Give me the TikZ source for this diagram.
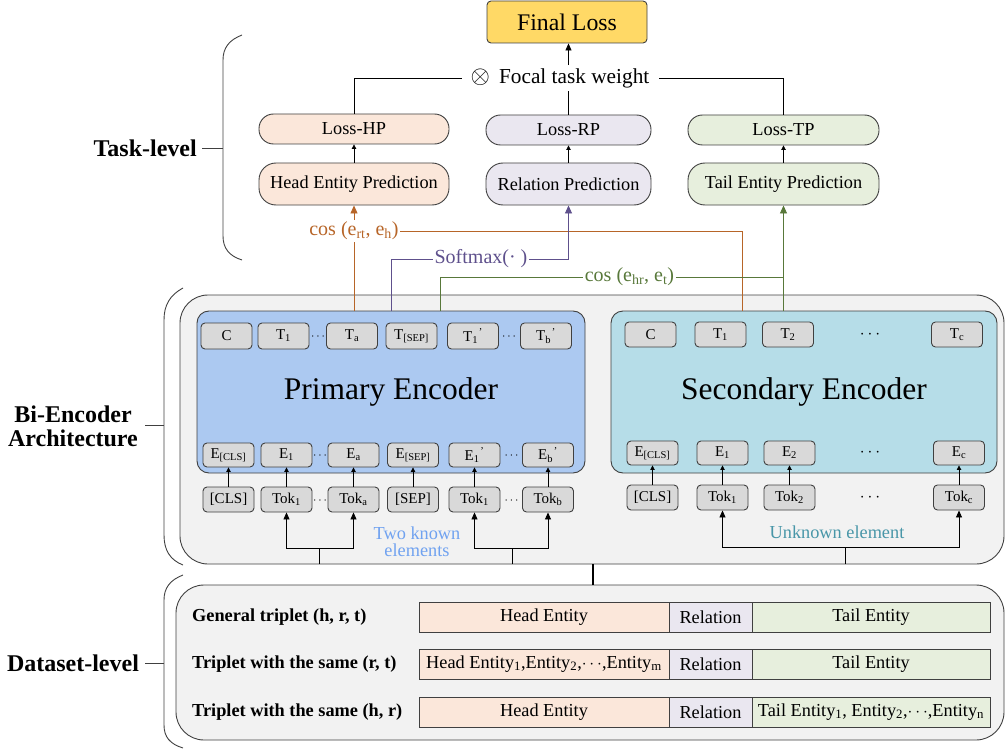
\documentclass[tikz,border=0pt]{standalone}
\usepackage{fontspec}
\setmainfont{Liberation Serif}
\usetikzlibrary{arrows.meta,calc}
\definecolor{gold}{HTML}{FFD966}
\definecolor{peach}{HTML}{FBE7DA}
\definecolor{lav}{HTML}{EAE7F0}
\definecolor{sage}{HTML}{E7EFDD}
\definecolor{panel}{HTML}{F2F2F2}
\definecolor{pblue}{HTML}{ACC9F1}
\definecolor{sblue}{HTML}{B6DDE8}
\definecolor{tokgray}{HTML}{D9D9D9}
\definecolor{edgec}{HTML}{404040}
\definecolor{corange}{RGB}{183,101,40}
\definecolor{cpurple}{RGB}{94,80,140}
\definecolor{cgreen}{RGB}{88,120,58}
\definecolor{known}{RGB}{112,162,240}
\definecolor{unknown}{RGB}{72,150,168}
\newcommand\fs[1]{\fontsize{#1}{#1}\selectfont}
\newcommand\sbp[1]{\textsubscript{#1}\kern0.05em\textsuperscript{'}}
\begin{document}
\begin{tikzpicture}[x=1pt,y=-1pt,
  pill/.style={draw=edgec, line width=0.9pt, rounded corners=14.5pt, minimum height=30pt, inner sep=0pt, font=\fs{18.3}},
  pred/.style={pill, rounded corners=17pt, minimum height=42pt},
  tok/.style={draw=edgec, line width=0.9pt, fill=tokgray, rounded corners=4pt, minimum width=51pt, minimum height=25pt, inner sep=0pt, font=\fs{15}},
  cell/.style={draw=edgec, line width=0.9pt, minimum height=30pt, inner sep=0pt, font=\fs{18.3}},
  panelbox/.style={draw=edgec, line width=0.9pt, fill=panel, rounded corners=28pt, inner sep=0pt},
  encbox/.style={draw=edgec, line width=0.9pt, rounded corners=12pt, inner sep=0pt, font=\fs{31.5}},
  conn/.style={draw=black, line width=0.8pt},
  brace/.style={draw=edgec, line width=0.9pt},
  bigtip/.style={-{Triangle[length=8pt,width=7pt]}},
  midtip/.style={-{Triangle[length=7pt,width=6pt]}},
  smalltip/.style={-{Triangle[length=4.5pt,width=4.5pt]}},
  lvl/.style={font=\fs{24}\bfseries, inner sep=0pt, align=center},
  rowlbl/.style={font=\fs{18.3}\bfseries, inner sep=0pt, anchor=west},
  clabel/.style={font=\fs{20}, inner xsep=1.5pt, inner ysep=2pt}
]
\useasboundingbox (0,0) rectangle (1007,749);

% ---------- panels ----------
\node[panelbox, minimum width=824pt, minimum height=269pt] (bi) at (592,429.5) {};
\node[panelbox, minimum width=828pt, minimum height=155pt] (ds) at (590,662.5) {};
\node[encbox, fill=pblue, minimum width=388pt, minimum height=162pt] (prim) at (391,392) {Primary Encoder};
\node[encbox, fill=sblue, minimum width=386pt, minimum height=162pt] (sec) at (804,392) {Secondary Encoder};

% ---------- task level ----------
\node[draw=edgec, line width=0.9pt, fill=gold, rounded corners=4pt, minimum width=160pt, minimum height=42pt, inner sep=0pt, font=\fs{23.8}] (FL) at (567,22) {Final Loss};
\node[font=\fs{21.3}, inner xsep=9pt, inner ysep=3pt] (focal) at (560,78) {{\fs{26}$\otimes$}\hspace{9pt}Focal task weight};

\node[pill, fill=peach, minimum width=190pt] (LHP) at (354,129) {Loss-HP};
\node[pred, fill=peach, minimum width=190pt] (HP) at (354,184) {Head Entity Prediction};
\node[pill, fill=lav, minimum width=165pt] (LRP) at (568.5,130) {Loss-RP};
\node[pred, fill=lav, minimum width=165pt] (RP) at (568.5,184) {Relation Prediction};
\node[pill, fill=sage, minimum width=191pt] (LTP) at (783.5,130) {Loss-TP};
\node[pred, fill=sage, minimum width=191pt] (TP) at (783.5,184) {Tail Entity Prediction};

\draw[conn, smalltip] (HP.north) -- (LHP.south);
\draw[conn, smalltip] (RP.north) -- (LRP.south);
\draw[conn, smalltip] (TP.north) -- (LTP.south);
\draw[conn] (LHP.north) |- (focal.west);
\draw[conn] (LTP.north) |- (focal.east);
\draw[conn] (LRP.north) -- (LRP.north |- focal.south);
\draw[conn, midtip] (LRP.north |- focal.north) -- (FL.south -| LRP.north);

% ---------- connector labels ----------
\node[clabel, text=corange] (cosH) at (354,231) {cos (e\textsubscript{rt}, e\textsubscript{h})};
\node[clabel, text=cpurple] (soft) at (481,259) {Softmax(\textperiodcentered\ )};
\node[clabel, text=cgreen] (cosT) at (629.5,277) {cos (e\textsubscript{hr}, e\textsubscript{t})};

\coordinate (pO) at (354,311);
\coordinate (sO) at (742,311);
\coordinate (pP) at (391,311);
\coordinate (pG) at (440,311);
\coordinate (sG) at (783.5,311);

\draw[conn, draw=corange] (pO) -- (cosH.south);
\draw[conn, draw=corange, bigtip] (cosH.north) -- (HP.south);
\draw[conn, draw=corange] (cosH.east) -| (sO);
\draw[conn, draw=cpurple] (pP) |- (soft.west);
\draw[conn, draw=cpurple, bigtip] (soft.east) -| (RP.south);
\draw[conn, draw=cgreen] (pG) |- (cosT.west);
\draw[conn, draw=cgreen] (cosT.east) -- (cosT.east -| TP.south);
\draw[conn, draw=cgreen, bigtip] (sG) -- (TP.south);

% ---------- primary encoder tokens ----------
\node[tok, minimum height=26pt] (pT0) at (226.5,336) {C};
\node[tok, minimum height=26pt] (pT1) at (283.5,336) {T\textsubscript{1}};
\node[tok, minimum height=26pt] (pTa) at (352,336) {T\textsubscript{a}};
\node[tok, minimum height=26pt] (pTs) at (411.5,336) {T\textsubscript{[SEP]}};
\node[tok, minimum height=26pt] (pT1b) at (473,336) {T\sbp{1}};
\node[tok, minimum height=26pt] (pTb) at (546,336) {T\sbp{b}};
\node[font=\fs{12}, inner sep=0pt] (pTd1) at (318,337) {$\cdots$};
\node[font=\fs{12}, inner sep=0pt] (pTd2) at (509,337) {$\cdots$};

\node[tok, minimum height=24pt] (pE0) at (228.5,455) {E\textsubscript{[CLS]}};
\node[tok, minimum height=24pt] (pE1) at (286.5,455) {E\textsubscript{1}};
\node[tok, minimum height=24pt] (pEa) at (353.5,455) {E\textsubscript{a}};
\node[tok, minimum height=24pt] (pEs) at (413,455) {E\textsubscript{[SEP]}};
\node[tok, minimum height=24pt] (pE1b) at (474.5,455) {E\sbp{1}};
\node[tok, minimum height=24pt] (pEb) at (548,455) {E\sbp{b}};
\node[font=\fs{12}, inner sep=0pt] (pEd1) at (320,456) {$\cdots$};
\node[font=\fs{12}, inner sep=0pt] (pEd2) at (511.5,456) {$\cdots$};

\node[tok] (pK0) at (228.5,499.5) {[CLS]};
\node[tok] (pK1) at (286.5,499.5) {Tok\textsubscript{1}};
\node[tok] (pKa) at (353.5,499.5) {Tok\textsubscript{a}};
\node[tok] (pKs) at (413,499.5) {[SEP]};
\node[tok] (pK1b) at (474.5,499.5) {Tok\textsubscript{1}};
\node[tok] (pKb) at (548,499.5) {Tok\textsubscript{b}};
\node[font=\fs{12}, inner sep=0pt] (pKd1) at (320,500.5) {$\cdots$};
\node[font=\fs{12}, inner sep=0pt] (pKd2) at (511.5,500.5) {$\cdots$};

\foreach \k/\e in {pK0/pE0,pK1/pE1,pKa/pEa,pKs/pEs,pK1b/pE1b,pKb/pEb}
  \draw[conn, smalltip] (\k.north) -- (\e.south);

\coordinate (inA) at (319,564);
\coordinate (inB) at (512,564);
\draw[conn, midtip] (inA) -- ++(0,-16) -| (pK1.south);
\draw[conn, midtip] (inA) ++(0,-16) -| (pKa.south);
\draw[conn, midtip] (inB) -- ++(0,-16) -| (pK1b.south);
\draw[conn, midtip] (inB) ++(0,-16) -| (pKb.south);
\node[font=\fs{18.3}, text=known, align=center, inner sep=0pt] (known) at (417,542) {Two known\\[-1pt]elements};

% ---------- secondary encoder tokens ----------
\node[tok] (sT0) at (650.5,334.5) {C};
\node[tok] (sT1) at (720.5,334.5) {T\textsubscript{1}};
\node[tok] (sT2) at (788,334.5) {T\textsubscript{2}};
\node[font=\fs{18}, inner sep=0pt] (sTd) at (870,334.5) {$\cdots$};
\node[tok] (sTc) at (957,334.5) {T\textsubscript{c}};

\node[tok, minimum height=24pt] (sE0) at (652.5,453) {E\textsubscript{[CLS]}};
\node[tok, minimum height=24pt] (sE1) at (722.5,453) {E\textsubscript{1}};
\node[tok, minimum height=24pt] (sE2) at (789.5,453) {E\textsubscript{2}};
\node[font=\fs{18}, inner sep=0pt] (sEd) at (870,453) {$\cdots$};
\node[tok, minimum height=24pt] (sEc) at (959,453) {E\textsubscript{c}};

\node[tok] (sK0) at (652.5,497.5) {[CLS]};
\node[tok] (sK1) at (722.5,497.5) {Tok\textsubscript{1}};
\node[tok] (sK2) at (789.5,497.5) {Tok\textsubscript{2}};
\node[font=\fs{18}, inner sep=0pt] (sKd) at (870,497.5) {$\cdots$};
\node[tok] (sKc) at (959,497.5) {Tok\textsubscript{c}};

\foreach \k/\e in {sK0/sE0,sK1/sE1,sK2/sE2,sKc/sEc}
  \draw[conn, smalltip] (\k.north) -- (\e.south);

\coordinate (inC) at (845,564);
\draw[conn, midtip] (inC) -- ++(0,-17) -| (sK1.south);
\draw[conn, midtip] (inC) ++(0,-17) -| (sKc.south);
\node[font=\fs{18.3}, text=unknown, inner sep=0pt] (unk) at (837,532) {Unknown element};

% ---------- bi-encoder to dataset ----------
\coordinate (biB) at (593,564);
\coordinate (dsT) at (593,585);
\draw[draw=black, line width=1.6pt] (biB) -- (dsT);

% ---------- dataset level ----------
\node[rowlbl] (r1) at (192,617) {General triplet (h, r, t)};
\node[rowlbl] (r2) at (192,664) {Triplet with the same (r, t)};
\node[rowlbl] (r3) at (192,712) {Triplet with the same (h, r)};

\node[cell, fill=peach, minimum width=250pt] (h1) at (544,617) {Head Entity};
\node[cell, fill=lav, minimum width=83pt] (m1) at (710.5,617) {Relation};
\node[cell, fill=sage, minimum width=238pt] (t1) at (871,617) {Tail Entity};

\node[cell, fill=peach, minimum width=250pt] (h2) at (544,664) {Head Entity\textsubscript{1},Entity\textsubscript{2},$\cdots$,Entity\textsubscript{m}};
\node[cell, fill=lav, minimum width=83pt] (m2) at (710.5,664) {Relation};
\node[cell, fill=sage, minimum width=238pt] (t2) at (871,664) {Tail Entity};

\node[cell, fill=peach, minimum width=250pt] (h3) at (544,712) {Head Entity};
\node[cell, fill=lav, minimum width=83pt] (m3) at (710.5,712) {Relation};
\node[cell, fill=sage, minimum width=238pt] (t3) at (871,712) {Tail Entity\textsubscript{1}, Entity\textsubscript{2},$\cdots$,Entity\textsubscript{n}};

% ---------- left braces and level labels ----------
\draw[brace] (242,35) .. controls (229,40) and (223,48) .. (223,60) -- (223,236) .. controls (223,248) and (229,256) .. (242,260);
\coordinate (tb) at (223,148);
\node[lvl, anchor=east] (tl) at (197,148) {Task-level};
\draw[brace] (tl.east) ++(5,0) -- (tb);

\draw[brace] (183,288) .. controls (170,295) and (164,305) .. (164,320) -- (164,535) .. controls (164,550) and (170,560) .. (183,565);
\coordinate (bb) at (164,425);
\node[lvl] (bl) at (73,426) {Bi-Encoder\\[0pt]Architecture};
\draw[brace] (145,425) -- (bb);

\draw[brace] (183,575) .. controls (170,580) and (164,588) .. (164,600) -- (164,725) .. controls (164,737) and (170,744) .. (183,748);
\coordinate (db) at (164,663);
\node[lvl] (dl) at (73,663) {Dataset-level};
\draw[brace] (145,663) -- (db);
\end{tikzpicture}
\end{document}
